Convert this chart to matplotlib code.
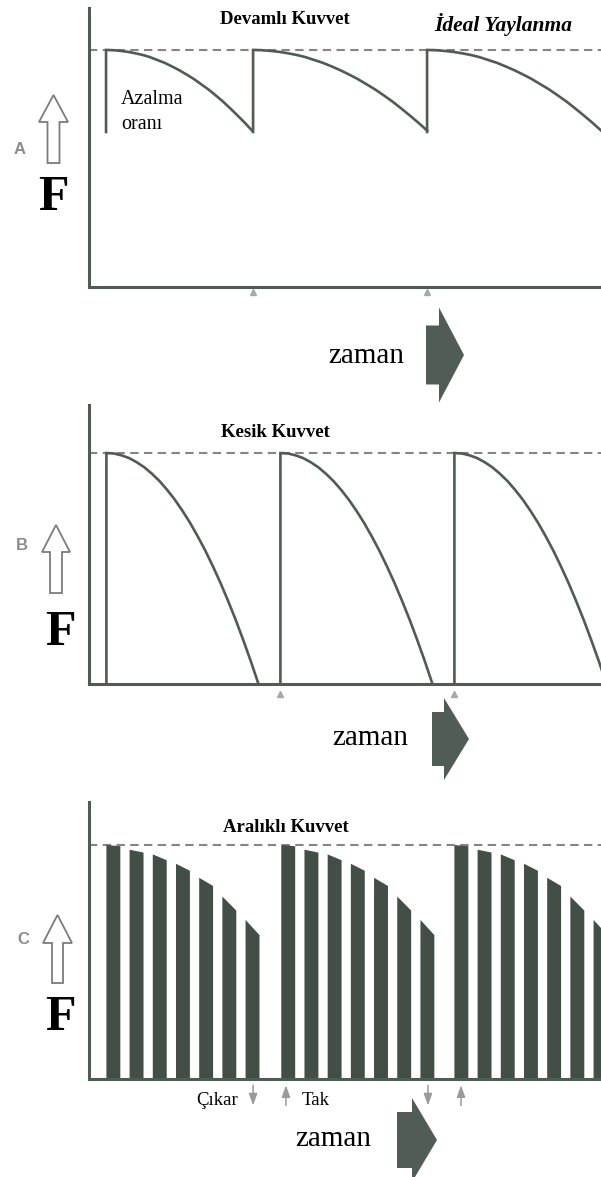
import numpy as np
import matplotlib
matplotlib.use('Agg')
import matplotlib.pyplot as plt
from matplotlib.patches import Polygon
from matplotlib import rc

rc('font', **{'family': 'serif', 'serif': ['Liberation Serif', 'DejaVu Serif']})

# time is measured in application periods, force in % of the ideal force
t_end = 2.9425
ideal_force = 100

# shape of one decay curve: fraction of the cycle -> force
decay_frac = [0, .05, .1, .15, .2, .25, .3, .35, .4, .45, .5, .55, .6, .65, .7,
			  .75, .8, .85, .9, .95, 1.0]

# A: continuous force
cont_start = [0.098, 0.943, 1.943]
cont_len = [0.839, 1.0, 1.0]
cont_force = [100, 99.9, 99.6, 99.2, 98.6, 97.9, 97.0, 95.8, 94.6, 93.1, 91.5,
			  89.7, 87.8, 85.6, 83.4, 80.9, 78.3, 75.4, 72.4, 69.3, 66]
cont_marks = [0.943, 1.943]

# B: interrupted force
kesik_start = [0.10, 1.10, 2.10]
kesik_len = 0.874
kesik_force = [100, 99.8, 99, 97.8, 96, 93.8, 91, 87.8, 84, 79.8, 75, 69.8,
			   64, 57.8, 51, 43.8, 36, 27.8, 19, 9.8, 0]
kesik_marks = [1.098, 2.10]

# C: intermittent force (appliance taken out / put back)
arl_start = [0.10, 1.105, 2.10]
bar_step = 0.1333
bar_w = 0.08
bar_top_left = [100, 98, 96, 92, 86, 78, 68]
bar_top_right = [99.5, 96.8, 93.5, 89, 82.5, 72, 61.5]
cikar_t = [0.943, 1.948]
tak_t = [1.132, 2.138]

line_col = '#4f5b53'
bar_col = '#434e47'
dash_col = '#858585'


def setup_panel(fig, bottom_px, top_px, ymax):
	H = 1177.
	ax = fig.add_axes([89/601., 1 - bottom_px/H, 512/601., (bottom_px - top_px)/H])
	ax.set_xlim(0, t_end)
	ax.set_ylim(0, ymax)
	for s in ['top', 'right']:
		ax.spines[s].set_visible(False)
	for s in ['left', 'bottom']:
		ax.spines[s].set_color(line_col)
		ax.spines[s].set_linewidth(2.2)
	ax.set_xticks([])
	ax.set_yticks([])
	ax.patch.set_alpha(0)
	ax.axhline(ideal_force, color=dash_col, lw=1.5, ls=(0, (4, 2.6)), zorder=1)
	return ax


def hollow_arrow(ov, tip_x, tip_y, head_w, head_y, shaft_w, bot_y):
	pts = [(tip_x, tip_y), (tip_x + head_w/2, head_y), (tip_x + shaft_w/2, head_y),
		   (tip_x + shaft_w/2, bot_y), (tip_x - shaft_w/2, bot_y),
		   (tip_x - shaft_w/2, head_y), (tip_x - head_w/2, head_y)]
	ov.add_patch(Polygon(pts, closed=True, fc='white', ec='#7c7c7c', lw=1.3))


def time_arrow(ov, x0, y_mid, shaft_x1, shaft_h, head_h, tip_x):
	pts = [(x0, y_mid - shaft_h/2), (shaft_x1, y_mid - shaft_h/2), (shaft_x1, y_mid - head_h/2),
		   (tip_x, y_mid), (shaft_x1, y_mid + head_h/2), (shaft_x1, y_mid + shaft_h/2),
		   (x0, y_mid + shaft_h/2)]
	ov.add_patch(Polygon(pts, closed=True, fc='#505c55', ec='none'))


def plot():
	fig = plt.figure(figsize=(6.01, 11.77), dpi=100)
	frac = np.array(decay_frac)

	# --- A
	axA = setup_panel(fig, 287, 8, 117.7)
	for s, L in zip(cont_start, cont_len):
		xs = np.concatenate([[s], s + frac*L])
		ys = np.concatenate([[cont_force[-1] - 0.6], cont_force])
		axA.plot(xs, ys, color=line_col, lw=1.9, solid_joinstyle='miter', zorder=3)
	axA.plot(cont_marks, [-2.3]*len(cont_marks), '^', color='#a8a8a8', ms=4.5, clip_on=False)

	# --- B
	axB = setup_panel(fig, 684, 405, 120.8)
	for s in kesik_start:
		xs = np.concatenate([[s], s + frac*kesik_len])
		ys = np.concatenate([[0], kesik_force])
		axB.plot(xs, ys, color=line_col, lw=1.9, solid_joinstyle='miter', zorder=3)
	axB.plot(kesik_marks, [-4.5]*len(kesik_marks), '^', color='#a8a8a8', ms=4.5, clip_on=False)

	# --- C
	axC = setup_panel(fig, 1079, 802, 118.4)
	for s in arl_start:
		for k, (hl, hr) in enumerate(zip(bar_top_left, bar_top_right)):
			l = s + k*bar_step
			axC.fill([l, l, l + bar_w, l + bar_w], [0, hl, hr, 0], color=bar_col, lw=0, zorder=2)
	astyle = dict(arrowstyle='-|>,head_length=0.7,head_width=0.25', color='#9a9a9a', lw=1.1)
	for t in cikar_t:
		axC.annotate('', xy=(t, -12.5), xytext=(t, -1.5), annotation_clip=False, arrowprops=astyle)
	for t in tak_t:
		axC.annotate('', xy=(t, -1.5), xytext=(t, -12.5), annotation_clip=False, arrowprops=astyle)

	# overlay in pixel units for the labels and the side icons
	ov = fig.add_axes([0, 0, 1, 1], zorder=5)
	ov.set_xlim(0, 601)
	ov.set_ylim(1177, 0)
	ov.axis('off')

	ov.text(285, 24, 'Devamlı Kuvvet', ha='center', va='baseline', fontsize=13.5, fontweight='bold')
	ov.text(503, 31, 'İdeal Yaylanma', ha='center', va='baseline', fontsize=15.5,
			fontweight='bold', style='italic')
	ov.text(121, 104, 'Azalma', ha='left', va='baseline', fontsize=14.5)
	ov.text(121, 129, 'oranı', ha='left', va='baseline', fontsize=14.5)
	ov.text(275, 437, 'Kesik Kuvvet', ha='center', va='baseline', fontsize=13.5, fontweight='bold')
	ov.text(286, 832, 'Aralıklı Kuvvet', ha='center', va='baseline', fontsize=13.5, fontweight='bold')
	ov.text(196, 1105, 'Çıkar', ha='left', va='baseline', fontsize=13.5)
	ov.text(302, 1105, 'Tak', ha='left', va='baseline', fontsize=13.5)

	for lab, (lx, ly) in zip(['A', 'B', 'C'], [(20, 150), (22, 546), (23, 940)]):
		ov.text(lx, ly, lab, ha='center', va='center', fontsize=12, fontweight='bold',
				color='#8c8c8c', family='Liberation Sans')
	for fx, fy in [(38, 210), (45, 645), (45, 1030)]:
		ov.text(fx, fy, 'F', ha='left', va='baseline', fontsize=36, fontweight='bold')

	hollow_arrow(ov, 53.5, 95, 29, 122, 12, 163)
	hollow_arrow(ov, 56, 525, 28, 552, 12, 593)
	hollow_arrow(ov, 57.5, 915, 29, 943, 11, 983)

	for zx, zy in [(328, 363), (332, 745), (295, 1146)]:
		ov.text(zx, zy, 'zaman', ha='left', va='baseline', fontsize=21)
	time_arrow(ov, 426, 355, 439, 59, 95, 464)
	time_arrow(ov, 432, 739, 444, 54, 82, 469)
	time_arrow(ov, 397, 1140, 412, 56, 84, 437)

	fig.savefig('out.png', dpi=100)


if __name__ == "__main__":
	plot()
